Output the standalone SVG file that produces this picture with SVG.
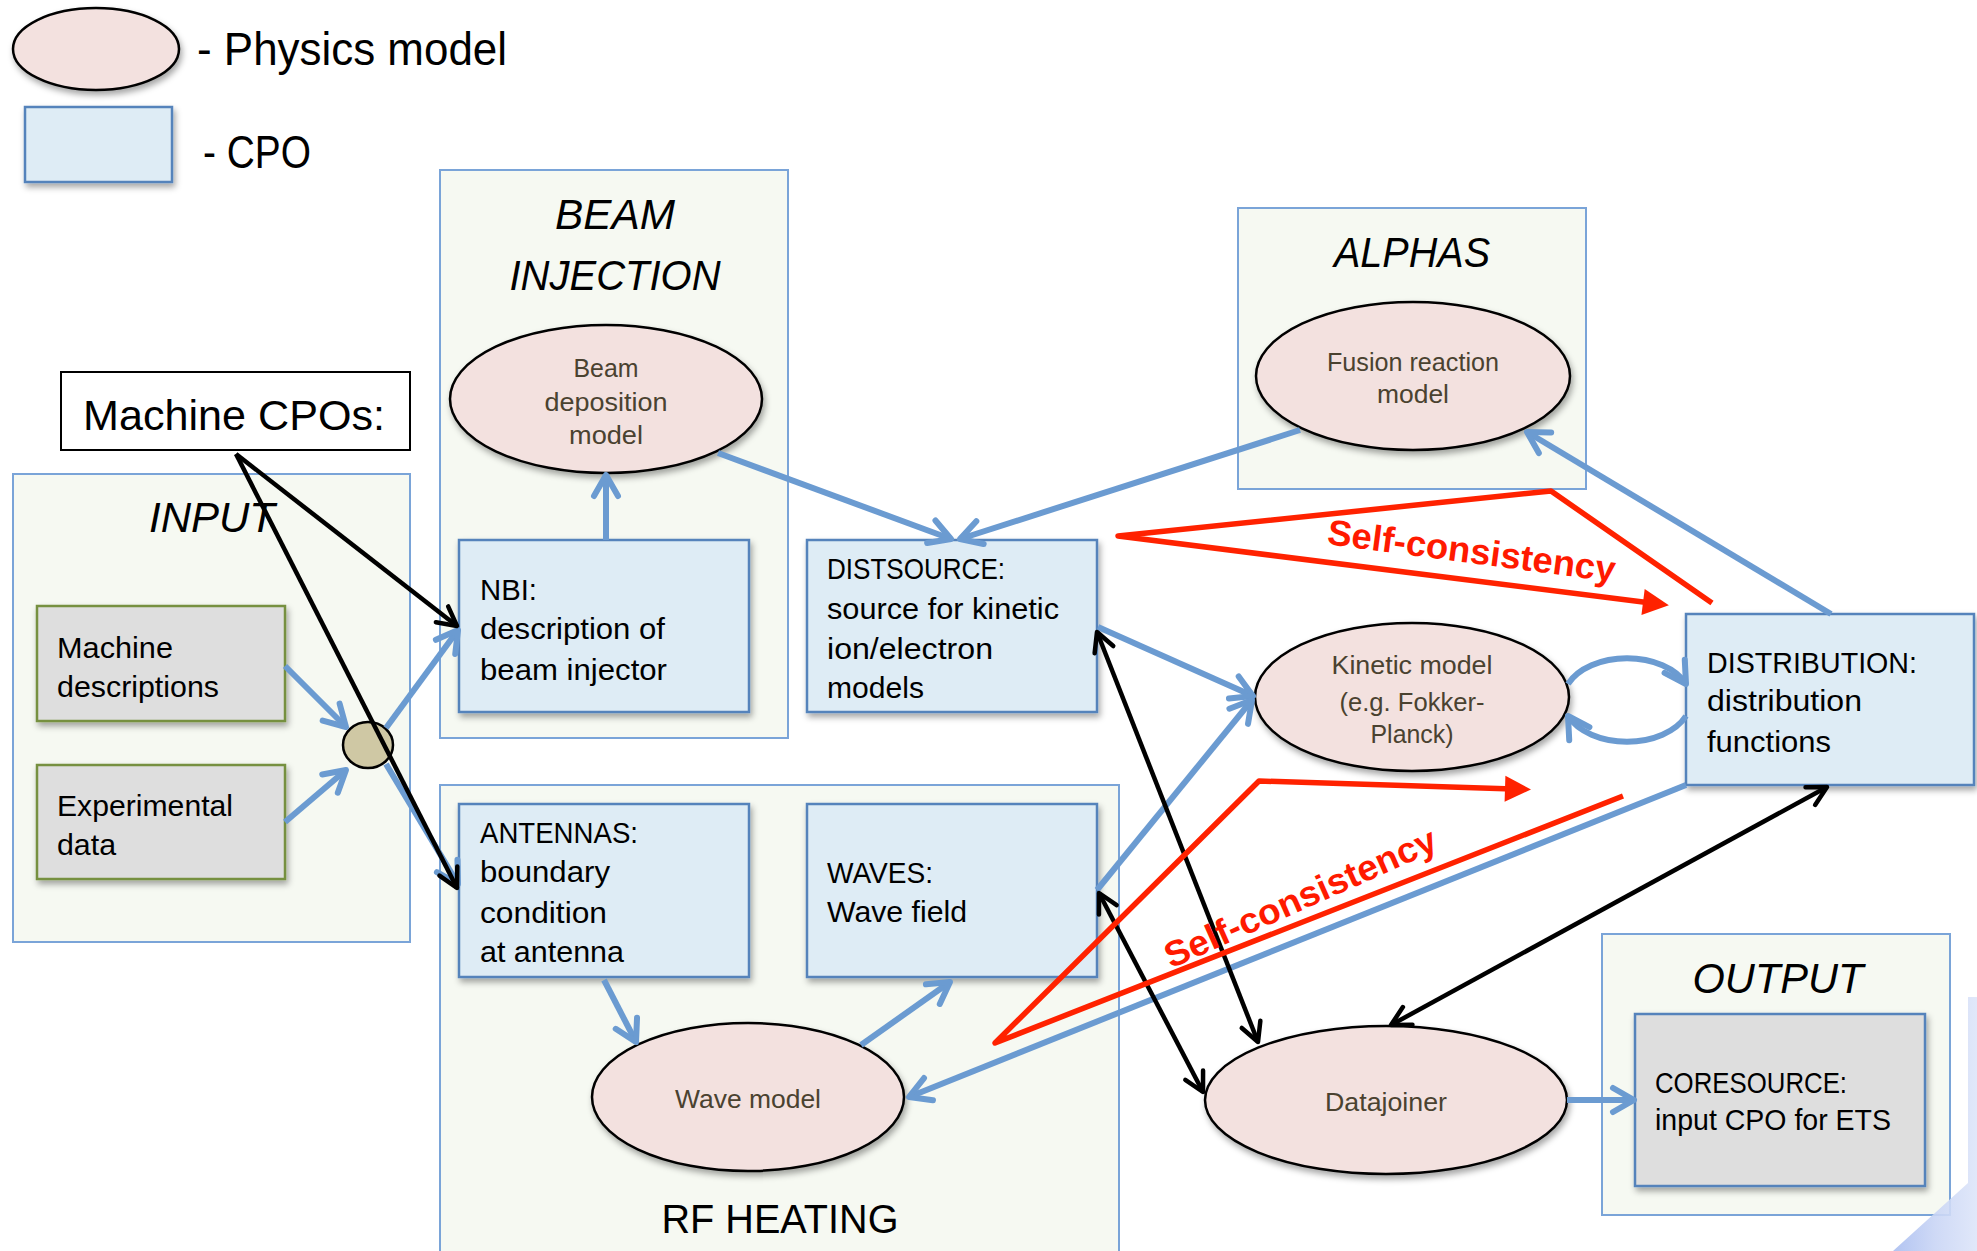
<svg xmlns="http://www.w3.org/2000/svg" width="1977" height="1251" viewBox="0 0 1977 1251">
<defs>
<style>
text{font-family:"Liberation Sans",Arial,sans-serif;fill:#000;}
.cont{fill:#f6f9f2;stroke:#7aa4d8;stroke-width:2;}
.cpo{fill:#deecf5;stroke:#5583bb;stroke-width:2.5;filter:url(#sh);}
.gray{fill:#dedede;stroke:#76903f;stroke-width:2.5;filter:url(#sh);}
.grayb{fill:#dedede;stroke:#5583bb;stroke-width:2.5;filter:url(#sh);}
.model{fill:#f3e1df;stroke:#000;stroke-width:2.5;filter:url(#sh);}
.t{font-size:30px;}
.mt{font-size:25px;fill:#4a4230;text-anchor:middle;}
.title{font-size:42px;font-style:italic;text-anchor:middle;}
.blue{fill:none;stroke:#6b9bd1;stroke-width:6;marker-end:url(#ab);}
.black{fill:none;stroke:#000;stroke-width:4.5;marker-end:url(#ak);}
.both{marker-start:url(#aks);}
.red{fill:none;stroke:#ff2200;stroke-width:5.5;stroke-linejoin:round;}
.sc{font-size:36px;font-weight:bold;fill:#ff1a00;text-anchor:middle;}
</style>
<filter id="sh" x="-10%" y="-10%" width="130%" height="140%">
<feDropShadow dx="2" dy="4" stdDeviation="3" flood-color="#000" flood-opacity="0.35"/>
</filter>
<linearGradient id="deco" x1="0" y1="0" x2="1" y2="0">
<stop offset="0" stop-color="#a9bdf0"/>
<stop offset="0.5" stop-color="#c9d5f5"/>
<stop offset="1" stop-color="#dde5f9"/>
</linearGradient>
<marker id="ab" viewBox="0 0 32 32" refX="27" refY="16" markerWidth="32" markerHeight="32" markerUnits="userSpaceOnUse" orient="auto" overflow="visible">
<path d="M6,4 L27,16 L6,28" fill="none" stroke="#6b9bd1" stroke-width="6" stroke-linecap="round" stroke-linejoin="round"/>
</marker>
<marker id="ak" viewBox="0 0 26 26" refX="22" refY="13" markerWidth="26" markerHeight="26" markerUnits="userSpaceOnUse" orient="auto" overflow="visible">
<path d="M3,3 L22,13 L3,23" fill="none" stroke="#000" stroke-width="4.5" stroke-linecap="round" stroke-linejoin="round"/>
</marker>
<marker id="aks" viewBox="0 0 26 26" refX="22" refY="13" markerWidth="26" markerHeight="26" markerUnits="userSpaceOnUse" orient="auto-start-reverse" overflow="visible">
<path d="M3,3 L22,13 L3,23" fill="none" stroke="#000" stroke-width="4.5" stroke-linecap="round" stroke-linejoin="round"/>
</marker>
<marker id="ar" viewBox="0 0 26 26" refX="8" refY="13" markerWidth="26" markerHeight="26" markerUnits="userSpaceOnUse" orient="auto" overflow="visible">
<path d="M0,0 L26,13 L0,26 z" fill="#ff2200"/>
</marker>
</defs>

<rect width="1977" height="1251" fill="#ffffff"/>

<g id="legend">
<ellipse class="model" cx="96" cy="49" rx="83" ry="41"/>
<text x="197" y="65" font-size="46" textLength="310" lengthAdjust="spacingAndGlyphs">- Physics model</text>
<rect class="cpo" x="25" y="107" width="147" height="75"/>
<text x="203" y="168" font-size="46" textLength="108" lengthAdjust="spacingAndGlyphs">- CPO</text>
</g>

<g id="input-group">
<rect class="cont" x="13" y="474" width="397" height="468"/>
<text class="title" x="212" y="532" font-size="38" textLength="126" lengthAdjust="spacingAndGlyphs">INPUT</text>
</g>
<g id="beam-group">
<rect class="cont" x="440" y="170" width="348" height="568"/>
<text class="title" x="615" y="229" textLength="120" lengthAdjust="spacingAndGlyphs">BEAM</text>
<text class="title" x="615" y="290" textLength="211" lengthAdjust="spacingAndGlyphs">INJECTION</text>
</g>
<g id="alphas-group">
<rect class="cont" x="1238" y="208" width="348" height="281"/>
<text class="title" x="1412" y="267" textLength="156" lengthAdjust="spacingAndGlyphs">ALPHAS</text>
</g>
<g id="rf-group">
<rect class="cont" x="440" y="785" width="679" height="480"/>
<text x="780" y="1233" font-size="40" text-anchor="middle" textLength="237" lengthAdjust="spacingAndGlyphs">RF HEATING</text>
</g>
<g id="output-group">
<rect class="cont" x="1602" y="934" width="348" height="281"/>
<text class="title" x="1778" y="993" textLength="171" lengthAdjust="spacingAndGlyphs">OUTPUT</text>
</g>

<polygon id="corner-deco" points="1968,997 1977,997 1977,1251 1893,1251 1968,1183" fill="url(#deco)" opacity="0.9"/>

<g id="machine-cpos">
<rect x="61" y="372" width="349" height="78" fill="#ffffff" stroke="#000" stroke-width="2"/>
<text x="83" y="430" font-size="42" textLength="302" lengthAdjust="spacingAndGlyphs">Machine CPOs:</text>
</g>
<g id="machine-descriptions">
<rect class="gray" x="37" y="606" width="248" height="115"/>
<text class="t" x="57" y="658" textLength="116" lengthAdjust="spacingAndGlyphs">Machine</text>
<text class="t" x="57" y="697" textLength="162" lengthAdjust="spacingAndGlyphs">descriptions</text>
</g>
<g id="experimental-data">
<rect class="gray" x="37" y="765" width="248" height="114"/>
<text class="t" x="57" y="816" textLength="176" lengthAdjust="spacingAndGlyphs">Experimental</text>
<text class="t" x="57" y="855" textLength="59" lengthAdjust="spacingAndGlyphs">data</text>
</g>
<g id="junction">
<ellipse cx="368" cy="745" rx="25" ry="23" fill="#cfc8a4" stroke="#000" stroke-width="2.5"/>
</g>
<g id="beam-deposition">
<ellipse class="model" cx="606" cy="399" rx="156" ry="74"/>
<text class="mt" x="606" y="377" textLength="65" lengthAdjust="spacingAndGlyphs">Beam</text>
<text class="mt" x="606" y="411" textLength="123" lengthAdjust="spacingAndGlyphs">deposition</text>
<text class="mt" x="606" y="444" textLength="74" lengthAdjust="spacingAndGlyphs">model</text>
</g>
<g id="nbi">
<rect class="cpo" x="459" y="540" width="290" height="172"/>
<text class="t" x="480" y="600" textLength="57" lengthAdjust="spacingAndGlyphs">NBI:</text>
<text class="t" x="480" y="639" textLength="185" lengthAdjust="spacingAndGlyphs">description of</text>
<text class="t" x="480" y="680" textLength="187" lengthAdjust="spacingAndGlyphs">beam injector</text>
</g>
<g id="distsource">
<rect class="cpo" x="807" y="540" width="290" height="172"/>
<text class="t" x="827" y="579" textLength="178" lengthAdjust="spacingAndGlyphs">DISTSOURCE:</text>
<text class="t" x="827" y="619" textLength="232" lengthAdjust="spacingAndGlyphs">source for kinetic</text>
<text class="t" x="827" y="659" textLength="166" lengthAdjust="spacingAndGlyphs">ion/electron</text>
<text class="t" x="827" y="698" textLength="97" lengthAdjust="spacingAndGlyphs">models</text>
</g>
<g id="fusion-reaction">
<ellipse class="model" cx="1413" cy="376" rx="157" ry="74"/>
<text class="mt" x="1413" y="371" textLength="172" lengthAdjust="spacingAndGlyphs">Fusion reaction</text>
<text class="mt" x="1413" y="403" textLength="72" lengthAdjust="spacingAndGlyphs">model</text>
</g>
<g id="kinetic-model">
<ellipse class="model" cx="1412" cy="697" rx="157" ry="74"/>
<text class="mt" x="1412" y="674" textLength="161" lengthAdjust="spacingAndGlyphs">Kinetic model</text>
<text class="mt" x="1412" y="711" textLength="145" lengthAdjust="spacingAndGlyphs">(e.g. Fokker-</text>
<text class="mt" x="1412" y="743" textLength="83" lengthAdjust="spacingAndGlyphs">Planck)</text>
</g>
<g id="distribution">
<rect class="cpo" x="1686" y="614" width="288" height="171"/>
<text class="t" x="1707" y="673" textLength="210" lengthAdjust="spacingAndGlyphs">DISTRIBUTION:</text>
<text class="t" x="1707" y="711" textLength="155" lengthAdjust="spacingAndGlyphs">distribution</text>
<text class="t" x="1707" y="752" textLength="124" lengthAdjust="spacingAndGlyphs">functions</text>
</g>
<g id="antennas">
<rect class="cpo" x="459" y="804" width="290" height="173"/>
<text class="t" x="480" y="843" textLength="158" lengthAdjust="spacingAndGlyphs">ANTENNAS:</text>
<text class="t" x="480" y="882" textLength="130" lengthAdjust="spacingAndGlyphs">boundary</text>
<text class="t" x="480" y="923" textLength="127" lengthAdjust="spacingAndGlyphs">condition</text>
<text class="t" x="480" y="962" textLength="144" lengthAdjust="spacingAndGlyphs">at antenna</text>
</g>
<g id="waves">
<rect class="cpo" x="807" y="804" width="290" height="173"/>
<text class="t" x="827" y="883" textLength="106" lengthAdjust="spacingAndGlyphs">WAVES:</text>
<text class="t" x="827" y="922" textLength="140" lengthAdjust="spacingAndGlyphs">Wave field</text>
</g>
<g id="wave-model">
<ellipse class="model" cx="748" cy="1097" rx="156" ry="74"/>
<text class="mt" x="748" y="1108" textLength="146" lengthAdjust="spacingAndGlyphs">Wave model</text>
</g>
<g id="datajoiner">
<ellipse class="model" cx="1386" cy="1100" rx="181" ry="74"/>
<text class="mt" x="1386" y="1111" textLength="122" lengthAdjust="spacingAndGlyphs">Datajoiner</text>
</g>
<g id="coresource">
<rect class="grayb" x="1635" y="1014" width="290" height="172"/>
<text class="t" x="1655" y="1093" textLength="192" lengthAdjust="spacingAndGlyphs">CORESOURCE:</text>
<text class="t" x="1655" y="1130" textLength="236" lengthAdjust="spacingAndGlyphs">input CPO for ETS</text>
</g>

<g id="connectors">
<path class="blue" d="M285,666 L346,727"/>
<path class="blue" d="M285,822 L346,770"/>
<path class="blue" d="M386,728 L458,630"/>
<path class="blue" d="M386,764 L458,884"/>
<path class="blue" d="M606,540 L606,475"/>
<path class="blue" d="M718,453 L951,539"/>
<path class="blue" d="M1300,430 L960,539"/>
<path class="blue" d="M1098,627 L1253,696"/>
<path class="blue" d="M1097,890 L1252,700"/>
<path class="blue" d="M1831,614 L1527,432"/>
<path class="blue" d="M1686,785 L909,1097"/>
<path class="blue" d="M604,980 L636,1042"/>
<path class="blue" d="M861,1045 L950,982"/>
<path class="blue" d="M1567,1100 L1634,1100"/>
<path class="blue" d="M1568,684 A64,42 0 0 1 1686,684"/>
<path class="blue" d="M1686,716 A64,42 0 0 1 1568,716"/>
<path class="black" d="M236,454 L457,626"/>
<path class="black" d="M236,454 L457,888"/>
<path class="black both" d="M1097,632 L1258,1042"/>
<path class="black both" d="M1099,893 L1203,1092"/>
<path class="black both" d="M1827,787 L1391,1025"/>
<path class="red" d="M1712,603 L1551,491 L1118,536 L1651,603" marker-end="url(#ar)"/>
<path class="red" d="M1623,796 L995,1043 L1259,781 L1513,789" marker-end="url(#ar)"/>
<text class="sc" transform="translate(1470,563) rotate(7.5)" textLength="290" lengthAdjust="spacingAndGlyphs">Self-consistency</text>
<text class="sc" transform="translate(1300,897) rotate(-24)" y="13" textLength="294" lengthAdjust="spacingAndGlyphs">Self-consistency</text>
</g>
</svg>
